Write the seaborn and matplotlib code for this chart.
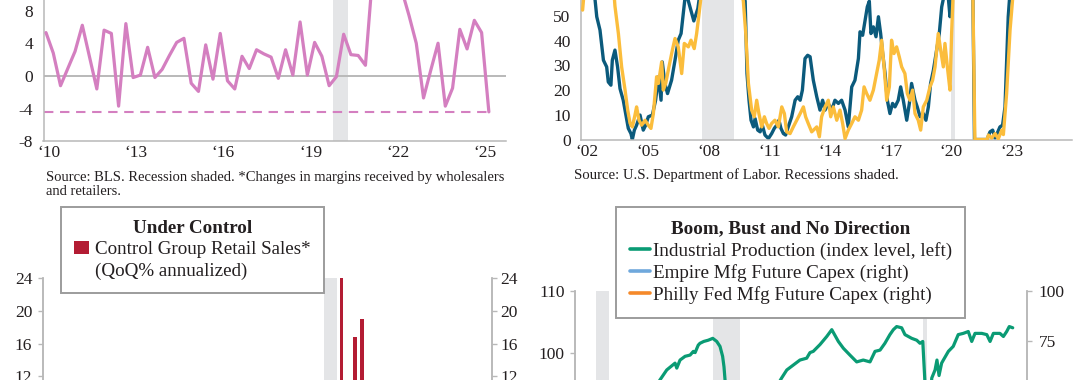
import matplotlib
matplotlib.use("Agg")
import numpy as np
import pandas as pd
import matplotlib.pyplot as plt
from matplotlib.lines import Line2D
from matplotlib.patches import Patch
import seaborn as sns

# ---------------- data ----------------
# Panel A: trade margins, quarterly 2010Q1 .. 2025Q2
margin_start = "2010Q1"
margin_values = [5.3, 2.8, -1.2, 0.9, 3.0, 6.2, 2.3, -1.6, 5.6, 5.2,
                 -3.7, 6.4, -0.2, 0.1, 3.5, -0.2, 0.8, 2.5, 4.1, 4.6,
                 -0.9, -1.9, 3.8, -0.4, 5.2, -0.6, -1.6, 2.4, 0.9, 3.2,
                 2.7, 2.3, -0.3, 3.2, 0.1, 6.6, 0.1, 4.1, 2.4, -1.2,
                 -0.1, 5.1, 2.6, 2.5, 1.3, 12.5, 15.0, 18.0, 14.0, 10.5,
                 7.4, 4.0, -2.7, 0.7, 4.0, -3.7, -1.5, 5.7, 3.3, 6.8,
                 5.3, -4.4]
margin_recession = (2019.9, 2020.4)
margin_ticks = [2010, 2013, 2016, 2019, 2022, 2025]
margin_ticklabels = ["\u201810", "\u201813", "\u201816", "\u201819", "\u201822", "\u201825"]
margin_yticks = [-8, -4, 0, 4, 8]

# Panel B: Dept. of Labor series (blue and gold)
blue_x = [2002.00, 2002.55, 2002.70, 2002.86, 2003.03, 2003.19, 2003.27, 2003.40, 2003.47, 2003.60,
          2003.73, 2003.85, 2004.01, 2004.13, 2004.26, 2004.39, 2004.46, 2004.56, 2004.67, 2004.84,
          2005.00, 2005.12, 2005.25, 2005.45, 2005.61, 2005.75, 2005.88, 2005.94, 2006.07, 2006.20,
          2006.40, 2006.57, 2006.73, 2006.87, 2006.98, 2007.10, 2007.30, 2007.50, 2007.70, 2007.85,
          2008.60, 2009.60, 2010.04, 2010.13, 2010.23, 2010.33, 2010.45, 2010.53, 2010.66, 2010.78,
          2010.89, 2011.02, 2011.19, 2011.35, 2011.48, 2011.60, 2011.71, 2011.81, 2011.93, 2012.04,
          2012.17, 2012.34, 2012.51, 2012.64, 2012.76, 2012.87, 2013.00, 2013.13, 2013.25, 2013.41,
          2013.58, 2013.74, 2013.87, 2013.99, 2014.15, 2014.32, 2014.48, 2014.65, 2014.81, 2014.98,
          2015.14, 2015.31, 2015.47, 2015.64, 2015.72, 2015.85, 2015.97, 2016.08, 2016.18, 2016.26,
          2016.38, 2016.51, 2016.63, 2016.74, 2016.84, 2016.96, 2017.07, 2017.20, 2017.33, 2017.45,
          2017.61, 2017.73, 2017.86, 2018.03, 2018.16, 2018.27, 2018.44, 2018.55, 2018.69, 2018.85,
          2018.98, 2019.10, 2019.21, 2019.35, 2019.51, 2019.64, 2019.76, 2019.92, 2020.08, 2020.17,
          2020.25, 2020.80, 2021.30, 2021.38, 2022.00, 2022.15, 2022.28, 2022.40, 2022.64, 2022.77,
          2022.89, 2023.05, 2023.14, 2023.50]
blue_y = [65, 62, 49.7, 44.3, 32.1, 29.4, 23.3, 22.0, 32.1, 36.2,
          29.4, 20.6, 15.9, 10.5, 4.5, 2.4, 0.0, 3.8, 5.8, 9.9,
          3.8, 5.8, 9.2, 9.9, 15.9, 25.4, 15.9, 31.4, 22.7, 18.6,
          24.0, 32.1, 40.2, 42.9, 51.0, 60, 54, 48, 53, 62,
          72, 72, 56, 26.7, 15.9, 7.8, 5.1, 8.5, 3.8, 3.1,
          5.8, 1.8, 0.4, 2.4, 4.5, 5.8, 7.8, 4.5, 2.4, 1.8,
          5.1, 9.2, 15.9, 17.3, 15.9, 20.0, 32.8, 34.1, 33.5, 24.0,
          17.3, 11.9, 15.9, 11.9, 14.6, 11.9, 15.9, 14.6, 15.9, 11.9,
          5.1, 21.3, 24.0, 32.8, 43.6, 42.2, 48.3, 53.7, 56.0, 42.9,
          45.6, 41.6, 49.7, 42.9, 34.8, 26.7, 15.9, 10.5, 14.6, 13.2,
          15.9, 21.3, 15.9, 7.8, 14.6, 22.7, 15.9, 13.2, 9.2, 10.5,
          7.8, 13.2, 22.7, 28.1, 36.2, 42.9, 53.7, 60, 58, 49.7,
          62, 72, 60, 0.0, 0.0, 3.1, 3.8, 0.5, 5.1, 5.8,
          13.2, 49.7, 60, 70]
gold_x = [2002.00, 2002.08, 2003.50, 2003.60, 2003.77, 2003.93, 2004.10, 2004.23, 2004.35, 2004.46,
          2004.59, 2004.67, 2004.79, 2004.92, 2005.09, 2005.25, 2005.38, 2005.50, 2005.66, 2005.75,
          2005.91, 2005.99, 2006.11, 2006.27, 2006.44, 2006.57, 2006.73, 2006.90, 2007.03, 2007.23,
          2007.36, 2007.52, 2007.64, 2007.76, 2007.89, 2008.60, 2009.60, 2009.95, 2010.07, 2010.20,
          2010.36, 2010.49, 2010.61, 2010.72, 2010.86, 2010.99, 2011.10, 2011.22, 2011.35, 2011.51,
          2011.68, 2011.85, 2011.98, 2012.09, 2012.26, 2012.42, 2012.59, 2012.76, 2012.92, 2013.03,
          2013.16, 2013.33, 2013.58, 2013.71, 2013.82, 2013.99, 2014.15, 2014.27, 2014.40, 2014.57,
          2014.73, 2014.86, 2014.98, 2015.14, 2015.31, 2015.47, 2015.64, 2015.80, 2015.92, 2016.05,
          2016.21, 2016.38, 2016.54, 2016.67, 2016.79, 2016.91, 2017.04, 2017.17, 2017.28, 2017.40,
          2017.53, 2017.66, 2017.78, 2017.94, 2018.06, 2018.19, 2018.32, 2018.44, 2018.60, 2018.72,
          2018.85, 2019.02, 2019.18, 2019.31, 2019.43, 2019.59, 2019.71, 2019.84, 2019.92, 2020.04,
          2020.17, 2020.25, 2020.33, 2020.80, 2021.30, 2021.40, 2022.00, 2022.07, 2022.23, 2022.40,
          2022.56, 2022.73, 2022.81, 2022.97, 2023.14, 2023.30, 2023.60]
gold_y = [52.4, 60, 65, 54, 42.9, 29.4, 20.0, 11.9, 6.5, 5.1,
          9.9, 13.2, 7.8, 5.8, 7.8, 5.8, 4.5, 10.5, 25.4, 22.7,
          31.4, 20.0, 22.7, 29.4, 36.2, 40.9, 37.5, 26.7, 38.9, 37.5,
          40.2, 36.8, 42.9, 51.0, 60, 72, 72, 56, 42.9, 22.7,
          11.9, 9.2, 15.9, 10.5, 5.1, 9.2, 6.5, 4.5, 6.5, 7.8,
          5.1, 13.2, 10.5, 3.1, 2.4, 5.1, 7.8, 10.5, 13.2, 9.2,
          6.5, 3.1, 5.1, 1.1, 9.2, 13.2, 15.9, 9.2, 13.2, 7.8,
          11.9, 6.5, 0.4, 3.8, 6.5, 9.2, 7.8, 11.9, 21.3, 18.6,
          15.9, 20.0, 26.7, 32.1, 40.2, 29.4, 15.9, 21.3, 40.2, 34.8,
          37.5, 33.5, 29.4, 26.7, 18.6, 15.9, 20.0, 10.5, 7.8, 3.8,
          13.2, 15.9, 21.3, 24.0, 29.4, 42.9, 36.2, 29.4, 38.9, 29.4,
          20.0, 42.9, 60, 72, 60, 0.0, 0.0, 1.8, 0.6, 2.4,
          0.3, 3.8, 2.0, 18.6, 44.3, 60, 70]
jobless_recessions = [(2007.92, 2009.50), (2020.20, 2020.43)]
jobless_ticks = [2002, 2005, 2008, 2011, 2014, 2017, 2020, 2023]
jobless_ticklabels = ["\u201802", "\u201805", "\u201808", "\u201811", "\u201814", "\u201817", "\u201820", "\u201823"]
jobless_yticks = [0, 10, 20, 30, 40, 50]

# Panel C: control group retail sales, QoQ% annualized
retail_start = "2019Q1"
retail_values = [3.0, 8.0, 6.0, 2.0, 5.0, -4.0, 24.0, 2.0, 16.8, 19.0,
                 4.0, 9.0, 8.0, 5.0, 7.0, 4.0]
retail_recession = (2020.0, 2020.47)
retail_yticks = [12, 16, 20, 24]

# Panel D: industrial production (index level)
ip_x = [2000.00, 2000.70, 2001.80, 2002.80, 2003.80, 2004.50, 2004.87, 2005.26, 2005.74, 2005.84,
        2006.03, 2006.32, 2006.61, 2006.80, 2006.90, 2007.08, 2007.18, 2007.40, 2007.66, 2007.92,
        2008.15, 2008.34, 2008.49, 2008.57, 2008.63, 2008.75, 2009.00, 2009.40, 2010.00, 2010.70,
        2011.40, 2011.90, 2012.20, 2012.58, 2012.96, 2013.35, 2013.54, 2013.73, 2014.12, 2014.51,
        2014.80, 2015.18, 2015.47, 2015.85, 2016.24, 2016.62, 2017.01, 2017.30, 2017.59, 2017.87,
        2018.16, 2018.36, 2018.55, 2018.84, 2019.03, 2019.42, 2019.71, 2019.90, 2020.06, 2020.19,
        2020.30, 2020.45, 2020.58, 2020.77, 2020.88, 2021.00, 2021.15, 2021.25, 2021.54, 2021.82,
        2022.11, 2022.40, 2022.69, 2022.89, 2023.08, 2023.47, 2023.76, 2023.95, 2024.14, 2024.52,
        2024.72, 2024.91, 2025.06, 2025.26]
ip_y = [92.5, 91.0, 87.5, 88.5, 91.0, 94.0, 95.6, 97.2, 98.3, 97.5,
        98.8, 99.4, 99.6, 100.2, 100.0, 101.2, 101.5, 101.8, 102.0, 102.3,
        101.8, 101.0, 99.4, 97.7, 95.6, 93.0, 89.0, 86.0, 88.5, 91.0,
        93.5, 95.9, 97.2, 98.0, 98.8, 99.1, 100.0, 100.2, 101.3, 102.6,
        103.7, 101.8, 100.7, 99.6, 98.5, 98.8, 98.5, 100.2, 100.4, 101.5,
        102.9, 103.7, 104.2, 104.0, 102.9, 102.3, 102.0, 101.5, 101.8, 95.0,
        86.0, 91.0, 95.9, 97.2, 98.8, 96.3, 98.3, 98.8, 100.2, 101.0,
        102.9, 103.1, 103.4, 101.8, 103.1, 103.1, 102.9, 101.8, 103.1, 103.1,
        102.6, 103.4, 104.2, 104.0]
ip_recessions = [(2001.17, 2001.90), (2007.92, 2009.49), (2020.09, 2020.29)]
ip_yticks = [100, 110]
capex_yticks = [75, 100]

# texts
src_a = ["Source: BLS. Recession shaded. *Changes in margins received by wholesalers",
         "and retailers."]
src_b = "Source: U.S. Department of Labor. Recessions shaded."
leg_c_title = "Under Control"
leg_c_labels = ["Control Group Retail Sales*", "(QoQ% annualized)"]
leg_d_title = "Boom, Bust and No Direction"
leg_d_labels = ["Industrial Production (index level, left)",
                "Empire Mfg Future Capex (right)",
                "Philly Fed Mfg Future Capex (right)"]

# ---------------- style ----------------
PINK = "#d47fc0"
BLUE = "#0b5a7c"
GOLD = "#fbbd3c"
RED = "#b31c33"
GREEN = "#0a9b74"
LBLUE = "#6fa8dc"
ORANGE = "#f5892a"
SHADE = "#e4e5e7"
SPINE = "#b8b8b8"
TXT = "#231f20"

sns.set_style("white")
plt.rcParams["font.family"] = ["Liberation Serif", "DejaVu Serif"]
plt.rcParams["axes.unicode_minus"] = False
plt.rcParams["text.color"] = TXT

W, H = 1080, 380
fig = plt.figure(figsize=(W / 100, H / 100), dpi=100)


def make_axes(x0px, x1px, xref_px, xref_val, px_per_x, yref_px, yref_val, px_per_y, ylo, yhi):
    xlo = xref_val + (x0px - xref_px) / px_per_x
    xhi = xref_val + (x1px - xref_px) / px_per_x
    ytop = yref_px - (yhi - yref_val) * px_per_y
    ybot = yref_px - (ylo - yref_val) * px_per_y
    ax = fig.add_axes([x0px / W, 1 - ybot / H, (x1px - x0px) / W, (ybot - ytop) / H])
    ax.set_xlim(xlo, xhi)
    ax.set_ylim(ylo, yhi)
    ax.set_facecolor("none")
    return ax


def style(ax, spines):
    for s in ["left", "right", "top", "bottom"]:
        ax.spines[s].set_visible(s in spines)
        ax.spines[s].set_color(SPINE)
        ax.spines[s].set_linewidth(1.1)
    ax.tick_params(axis="y", direction="out", length=3.5, width=1.0, color=SPINE,
                   pad=4, labelsize=12.5, labelcolor=TXT)
    ax.tick_params(axis="x", length=0, pad=3, labelsize=12.5, labelcolor=TXT)
    ax.set_xlabel("")
    ax.set_ylabel("")
    ax.grid(False)


# ---------- Panel A ----------
qa = pd.period_range(margin_start, periods=len(margin_values), freq="Q")
xa = qa.year + (qa.quarter - 1) / 4
axa = make_axes(43.5, 506, 46, 2010.0, 29.04, 75.9, 0.0, 8.17, -8, 12)
axa.axvspan(*margin_recession, color=SHADE, lw=0, zorder=0)
axa.axhline(0, color="#b9b9b9", lw=1.4, zorder=1)
xl = axa.get_xlim()
axa.axhline(margin_values[-1], xmin=0, xmax=(xa[-1] - xl[0]) / (xl[1] - xl[0]),
            color=PINK, lw=1.5, ls=(0, (4.5, 3.2)), zorder=2)
sns.lineplot(x=np.asarray(xa), y=margin_values, ax=axa, color=PINK, lw=2.3, zorder=3)
axa.set_xticks([t + 0.11 for t in margin_ticks])
axa.set_xticklabels(margin_ticklabels)
axa.set_yticks(margin_yticks)
style(axa, ["left", "bottom"])
axa.set_xlim(xl)
axa.set_ylim(-8, 12)

# ---------- Panel B ----------
axb = make_axes(581, 1072, 582.6, 2002.0, 20.22, 139.5, 0.0, 2.47, 0, 70)
for r in jobless_recessions:
    axb.axvspan(*r, color=SHADE, lw=0, zorder=0)
sns.lineplot(x=blue_x, y=blue_y, ax=axb, color=BLUE, lw=2.4, zorder=2)
sns.lineplot(x=gold_x, y=gold_y, ax=axb, color=GOLD, lw=2.4, zorder=3)
axb.set_xticks([t + 0.23 for t in jobless_ticks])
axb.set_xticklabels(jobless_ticklabels)
axb.set_yticks(jobless_yticks)
style(axb, ["left", "bottom"])
axb.set_xlim(2002.0 + (581 - 582.6) / 20.22, 2002.0 + (1072 - 582.6) / 20.22)
axb.set_ylim(0, 70)

# ---------- Panel C ----------
qc = pd.period_range(retail_start, periods=len(retail_values), freq="Q")
xc = np.asarray(qc.year + (qc.quarter - 1) / 4 + 0.125)
axc = make_axes(42.7, 491.7, 324, 2020.0, 27.6, 278.3, 24.0, 8.15, -12, 24)
xlc = axc.get_xlim()
axc.axvspan(*retail_recession, color=SHADE, lw=0, zorder=0)
sns.barplot(x=xc, y=retail_values, ax=axc, native_scale=True, color=RED,
            saturation=1, width=0.45, linewidth=0, errorbar=None, zorder=2)
axc.set_xlim(xlc)
axc.set_ylim(-12, 24)
axc.set_yticks(retail_yticks)
axc.set_xticks([])
style(axc, ["left", "right"])
axc2 = axc.twinx()
axc2.set_ylim(-12, 24)
axc2.set_yticks(retail_yticks)
style(axc2, ["left", "right"])
axc2.tick_params(axis="y", pad=3)
leg_c = axc2.legend([Patch(facecolor=RED, edgecolor="none"), Patch(facecolor="none", edgecolor="none")],
                    leg_c_labels, title=leg_c_title, loc="upper left",
                    bbox_to_anchor=(61 / W, 1 - 206.7 / H), bbox_transform=fig.transFigure,
                    frameon=True, fancybox=False, edgecolor="#9c9c9c", framealpha=1,
                    fontsize=13.7, title_fontproperties={"weight": "bold", "size": 13.7},
                    borderpad=0.7, labelspacing=0.2, handlelength=0.78, handleheight=0.72,
                    handletextpad=0.3, borderaxespad=0)
leg_c.get_frame().set_linewidth(1.4)

# ---------- Panel D ----------
axd = make_axes(575, 1027, 712.7, 2007.917, 17.3, 290.6, 110.0, 6.2, 80, 110)
xld = axd.get_xlim()
for r in ip_recessions:
    axd.axvspan(*r, color=SHADE, lw=0, zorder=0)
sns.lineplot(x=ip_x, y=ip_y, ax=axd, color=GREEN, lw=2.3, zorder=3)
axd.set_xlim(xld)
axd.set_ylim(80, 110)
axd.set_yticks(ip_yticks)
axd.set_xticks([])
style(axd, ["left", "right"])
axd2 = axd.twinx()
axd2.set_ylim(7, 100)
axd2.set_yticks(capex_yticks)
style(axd2, ["left", "right"])
axd2.tick_params(axis="y", pad=5)
handles_d = [Line2D([], [], color=GREEN, lw=2.6),
             Line2D([], [], color=LBLUE, lw=2.6),
             Line2D([], [], color=ORANGE, lw=2.6)]
leg_d = axd2.legend(handles_d, leg_d_labels, title=leg_d_title, loc="upper left",
                    bbox_to_anchor=(616.4 / W, 1 - 207.3 / H), bbox_transform=fig.transFigure,
                    frameon=True, fancybox=False, edgecolor="#9c9c9c", framealpha=1,
                    fontsize=13.8, title_fontproperties={"weight": "bold", "size": 13.8},
                    borderpad=0.7, labelspacing=0.22, handlelength=1.05,
                    handletextpad=0.15, borderaxespad=0)
leg_d.get_frame().set_linewidth(1.4)

# ---------- source texts ----------
fig.text(46.5 / W, 1 - 177 / H, src_a[0], fontsize=10.5, va="center", ha="left", color=TXT)
fig.text(46.5 / W, 1 - 191.5 / H, src_a[1], fontsize=10.5, va="center", ha="left", color=TXT)
fig.text(574.4 / W, 1 - 175 / H, src_b, fontsize=10.6, va="center", ha="left", color=TXT)

fig.savefig("out.png", dpi=100)
